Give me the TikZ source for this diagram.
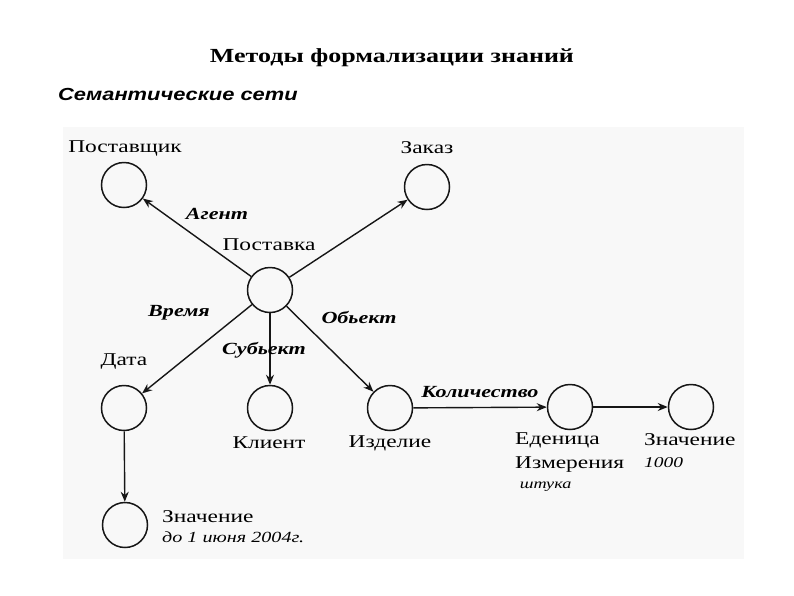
\documentclass[tikz,border=0pt]{standalone}
\usepackage{fontspec}
\setmainfont[FakeStretch=1.3]{Liberation Serif}
\setsansfont[FakeStretch=1.25]{Liberation Sans}
\usetikzlibrary{positioning, arrows.meta}
\definecolor{inkgray}{HTML}{161616}
\definecolor{paneltint}{HTML}{F8F8F8}
\tikzset{
  concept/.style={circle, draw=inkgray, line width=1.5pt, minimum size=45pt, inner sep=0pt},
  link/.style={draw=inkgray, line width=1.4pt, -{Stealth[length=10pt, width=8pt]}},
  conceptname/.style={inner sep=0pt, font=\fontsize{18}{24}\selectfont, align=left},
  relname/.style={inner sep=0pt, font=\fontsize{17}{18}\selectfont\bfseries\itshape},
}

\begin{document}
\begin{tikzpicture}[x=1pt, y=-1pt]
  \useasboundingbox (0,0) rectangle (794,595);
  \fill[paneltint] (63,127) rectangle (744,559);

  % headings
  \node[inner sep=0pt, font=\fontsize{20}{24}\selectfont\bfseries] (title) at (392,58)
    {Методы формализации знаний};
  \node[inner sep=0pt, anchor=west, font=\sffamily\fontsize{17.5}{20}\selectfont\bfseries\itshape]
    (subtitle) at (58,94) {Семантические сети};

  % concepts
  \node[concept] (postavshchik) at (124,185) {};
  \node[concept] (zakaz) at (427,187) {};
  \node[concept] (postavka) at (270,290) {};
  \node[concept] (data) at (124,408) {};
  \node[concept] (klient) at (270,408) {};
  \node[concept] (izdelie) at (390,408) {};
  \node[concept] (edinica) at (570,407) {};
  \node[concept] (znachenie) at (691,407) {};
  \node[concept] (datavalue) at (125,525) {};

  % concept names
  \node[conceptname] (postavshchiklbl) at (125,148) {Поставщик};
  \node[conceptname] (zakazlbl) at (427,148) {Заказ};
  \node[conceptname] (postavkalbl) at (269,245) {Поставка};
  \node[conceptname] (datalbl) at (124,362) {Дата};
  \node[conceptname] (klientlbl) at (269,443) {Клиент};
  \node[conceptname] (izdelielbl) at (390,443) {Изделие};
  \node[conceptname, anchor=north west] (edinicalbl) at (515,433)
    {Еденица\\Измерения\\[-4pt]{\fontsize{14}{16}\selectfont\itshape\ штука}};
  \node[conceptname, anchor=north west] (znachenielbl) at (644,433)
    {Значение\\[-2pt]{\fontsize{15}{16}\selectfont\itshape 1000}};
  \node[conceptname, anchor=north west] (datavaluelbl) at (162,510)
    {Значение\\[-4pt]{\fontsize{15.5}{18}\selectfont\itshape до 1 июня 2004г.}};

  % relations
  \draw[link] (postavka) -- (postavshchik);
  \draw[link] (postavka) -- (zakaz);
  \draw[link] (postavka) -- (data);
  \draw[link] (postavka) -- (klient);
  \draw[link] (postavka) -- (izdelie);
  \draw[link] (izdelie) -- (edinica);
  \draw[link] (edinica) -- (znachenie);
  \draw[link] (data) -- (datavalue);

  % relation names
  \node[relname] (agentlbl) at (217,214) {Агент};
  \node[relname] (vremyalbl) at (179,313) {Время};
  \node[relname] (obektlbl) at (359,317) {Обьект};
  \node[relname] (subektlbl) at (264,350) {Субьект};
  \node[relname] (kolichestvolbl) at (480,392) {Количество};
\end{tikzpicture}
\end{document}
